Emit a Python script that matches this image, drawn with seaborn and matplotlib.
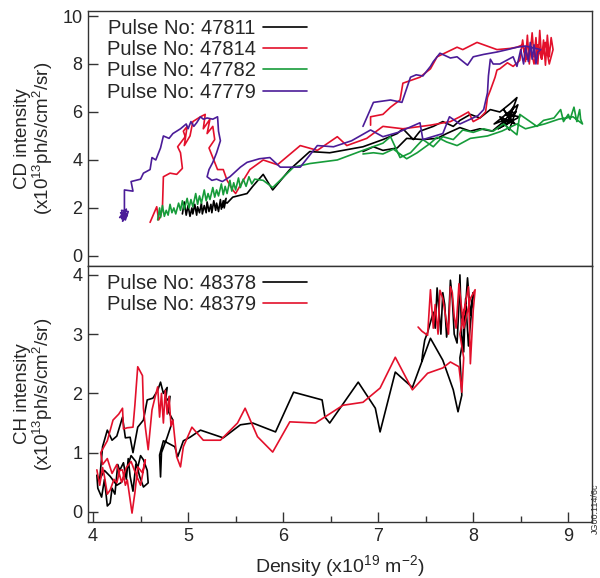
import numpy as np
import pandas as pd
import matplotlib
matplotlib.use("Agg")
import matplotlib.pyplot as plt
import seaborn as sns
from matplotlib.lines import Line2D

# ---------------- data ----------------
top_pulses = ["47811", "47814", "47782", "47779"]
top_colors = ["#000000", "#e3102b", "#169c3a", "#4b1c98"]

pulse_47811 = [(4.94,1.75),(4.96,2.25),(4.98,1.7),(5.00,2.1),(5.02,1.65),(5.04,2.0),(5.05,1.75),(5.07,2.15),
    (5.09,1.7),(5.10,2.05),(5.12,1.8),(5.14,2.2),(5.15,1.75),(5.17,2.1),(5.19,1.8),(5.20,2.25),(5.22,1.85),
    (5.24,2.15),(5.25,1.8),(5.27,2.3),(5.29,1.9),(5.30,2.2),(5.32,1.85),(5.34,2.35),(5.35,1.95),(5.37,2.3),
    (5.38,2.0),(5.40,2.4),(5.36,2.05),(5.39,2.25),(5.41,2.2),(5.47,2.45),
    (5.62,2.6),(5.68,2.9),(5.79,3.4),(5.89,2.75),(6.07,3.6),(6.21,4.1),(6.28,4.35),(6.49,4.3),(6.63,4.4),
    (6.84,4.55),(7.05,4.85),(7.20,5.1),(7.26,5.3),(7.37,4.85),(7.44,5.2),(7.58,5.4),(7.68,5.6),(7.79,5.4),
    (7.86,5.65),(7.97,5.9),(8.07,5.75),(8.18,6.1),(8.28,6.0),(8.39,6.35),(8.46,6.6),(8.36,5.5),(8.42,6.2),
    (8.30,5.4),(8.45,6.0),(8.34,5.9),(8.49,5.8),(8.26,5.3),(8.40,5.6),(8.32,6.1),(8.44,5.5),(8.28,5.8),
    (8.38,5.25),(8.47,6.3),(8.22,5.5),(8.35,5.7),(8.20,5.2),(8.07,5.3),(7.97,5.2),
    (7.86,5.35),(7.72,5.1),(7.62,4.9),(7.47,4.85),(7.30,4.9),(7.20,4.5),(7.05,4.4),(6.95,4.55),(6.84,4.35)]

pulse_47814 = [(4.60,1.4),(4.67,2.05),(4.69,1.5),(4.71,1.65),(4.73,2.0),(4.74,3.3),(4.81,3.45),(4.88,3.4),(4.94,3.65),
    (4.92,4.3),(4.89,4.55),(4.97,4.97),(4.95,5.2),(4.99,5.4),(4.96,4.6),(5.02,5.0),(5.05,5.6),(5.13,5.8),
    (5.18,5.9),(5.16,5.3),(5.23,5.7),(5.20,5.1),(5.26,5.4),(5.28,4.85),(5.22,4.5),(5.26,4.1),(5.31,3.6),
    (5.37,3.6),(5.41,3.15),(5.47,2.75),(5.50,2.6),(5.58,3.15),(5.65,3.6),(5.79,4.0),(5.94,3.8),(6.18,4.6),
    (6.36,4.4),(6.57,4.97),(6.67,4.6),(6.88,4.9),(7.05,5.4),(7.26,5.3),(7.55,5.45),(7.76,5.6),(7.86,5.8),
    (7.95,6.0),(8.00,5.6),(8.07,5.75),(8.13,6.0),(8.15,6.6),(8.18,6.9),(8.23,7.45),(8.25,7.75),(8.28,7.8),
    (8.36,8.05),(8.42,7.9),(8.49,8.15),(8.52,9.0),(8.55,8.1),(8.57,9.2),(8.59,8.0),(8.62,9.3),(8.64,8.3),
    (8.66,9.1),(8.68,8.0),(8.70,9.4),(8.72,8.2),(8.74,9.0),(8.76,7.95),(8.78,9.2),(8.80,8.3),(8.82,9.1),
    (8.84,8.6),(8.80,8.0),(8.76,8.9),(8.72,8.2),(8.68,8.8),(8.64,8.0),(8.60,8.7),(8.56,8.2),(8.52,8.8),
    (8.46,8.7),(8.39,8.65),(8.25,8.6),(8.04,8.9),(7.89,8.6),(7.83,8.7),(7.62,8.3),(7.55,7.8),(7.44,7.45),
    (7.26,7.2),(7.23,6.5),(7.13,6.2),(7.05,5.9),(6.92,5.8),(6.92,5.45)]

pulse_47782 = [(4.68,1.5),(4.70,2.0),(4.71,1.6),(4.73,2.1),(4.75,1.65),(4.77,1.9),(4.79,1.7),(4.81,2.15),
    (4.83,1.8),(4.85,2.0),(4.87,1.75),(4.90,2.2),(4.92,1.9),(4.94,2.3),(4.96,1.95),(4.99,2.4),(5.01,2.0),
    (5.03,2.35),(5.05,2.05),(5.08,2.6),(5.10,2.15),(5.12,2.5),(5.14,2.2),(5.17,2.75),(5.19,2.3),(5.21,2.6),
    (5.23,2.35),(5.26,2.85),(5.28,2.45),(5.30,2.75),(5.32,2.5),(5.35,3.0),(5.37,2.55),(5.39,2.9),(5.41,2.6),
    (5.44,3.15),(5.46,2.7),(5.48,3.05),(5.50,2.75),(5.53,3.25),(5.55,2.85),(5.58,3.2),(5.61,2.9),(5.64,3.3),
    (5.67,3.0),(5.70,3.2),(5.79,3.15),(5.89,2.85),(6.11,3.7),(6.28,3.85),(6.57,4.0),(6.84,4.4),(7.05,4.7),
    (7.13,4.97),(7.23,4.1),(7.34,4.3),(7.41,4.6),(7.47,4.85),(7.58,4.55),(7.68,4.97),(7.79,4.85),(7.89,5.25),
    (8.00,5.15),(8.11,5.3),(8.21,5.2),(8.32,5.5),(8.46,5.05),(8.49,5.9),(8.67,5.4),(8.74,5.65),(8.85,5.75),
    (8.92,6.1),(8.95,5.6),(9.00,5.9),(9.02,5.7),(9.06,6.2),(9.09,5.6),(9.12,6.1),(9.13,5.7),(9.15,5.5),
    (9.05,5.8),(8.90,5.7),(8.75,5.5),(8.55,5.3),(8.46,5.5),(8.30,5.2),(8.15,5.0),(7.97,4.9),(7.83,4.6),
    (7.72,4.75),(7.62,4.95),(7.55,4.7),(7.41,4.3),(7.30,4.05),(7.16,4.45),(7.05,4.25),(6.95,4.3),(6.84,4.25)]

pulse_47779 = [(4.30,1.55),(4.33,1.85),(4.28,1.6),(4.35,1.75),(4.31,1.45),(4.36,1.7),(4.29,1.8),(4.34,1.5),
    (4.37,1.85),(4.30,1.9),(4.32,1.55),(4.35,1.95),(4.33,1.65),
    (4.33,2.75),(4.42,2.7),(4.40,3.1),(4.50,3.2),(4.53,3.45),(4.60,3.6),(4.62,4.1),(4.66,4.0),(4.71,4.5),
    (4.74,5.0),(4.80,4.9),(4.84,5.1),(4.88,5.2),(4.92,5.3),(4.95,5.4),(4.98,5.5),(5.00,5.3),(5.03,5.6),
    (5.06,5.4),(5.09,5.55),(5.13,5.8),(5.16,5.7),(5.20,5.75),(5.26,5.7),(5.31,5.8),(5.32,5.2),(5.34,4.8),
    (5.30,4.3),(5.26,3.9),(5.22,3.6),(5.20,3.3),(5.25,3.15),(5.30,3.2),(5.36,3.1),(5.44,3.3),(5.55,3.7),
    (5.62,3.9),(5.75,4.05),(5.86,4.1),(5.97,3.7),(6.18,3.7),(6.36,4.6),(6.53,4.55),(6.72,4.8),(6.92,5.25),
    (7.05,4.97),(7.21,5.15),(7.44,5.55),(7.47,4.85),(7.68,5.1),(7.75,5.8),(7.86,5.5),
    (7.97,5.7),(8.05,5.85),(8.11,6.1),(8.15,6.8),(8.16,7.5),(8.18,8.2),(8.21,8.0),(8.28,8.0),
    (8.35,8.15),(8.42,8.3),(8.46,7.9),(8.50,8.6),(8.53,8.0),(8.55,8.7),(8.58,8.1),(8.60,8.9),(8.62,8.2),
    (8.64,8.8),(8.66,8.0),(8.68,8.5),(8.71,8.6),
    (8.55,8.75),(8.46,8.7),(8.36,8.6),(8.25,8.5),(8.11,8.4),(8.00,8.3),(7.94,7.95),(7.83,8.3),(7.76,8.25),
    (7.65,8.45),(7.58,8.1),(7.55,7.9),(7.47,7.5),(7.40,7.55),(7.34,7.45),(7.25,6.4),(7.13,6.5),(6.95,6.4),
    (6.84,5.4)]

bottom_pulses = ["48378", "48379"]
bottom_colors = ["#000000", "#e3102b"]

pulse_48378 = [(4.04,0.62),(4.05,0.40),(4.09,0.25),(4.12,0.55),(4.15,0.10),(4.18,0.15),(4.20,0.40),(4.23,0.30),
    (4.26,0.80),(4.28,0.70),(4.32,0.83),(4.35,0.55),(4.37,0.90),(4.39,0.60),(4.42,0.35),(4.45,0.80),(4.47,0.75),
    (4.50,0.95),(4.53,0.88),(4.57,0.70),(4.58,0.49),(4.53,0.42),(4.49,0.60),(4.45,0.85),(4.40,0.95),
    (4.35,0.70),(4.30,0.50),(4.25,0.45),(4.18,0.60),(4.12,0.70),(4.07,0.55),(4.10,1.1),(4.15,1.38),
    (4.20,1.21),(4.25,1.28),(4.31,1.6),(4.34,1.25),(4.39,1.26),(4.42,1.0),(4.47,1.43),(4.53,1.55),
    (4.57,1.89),(4.63,1.92),(4.68,2.05),(4.71,2.19),(4.74,2.0),(4.78,2.1),(4.76,1.85),(4.81,1.95),
    (4.79,1.7),(4.84,1.55),(4.78,1.26),(4.72,1.0),(4.71,0.59),(4.70,0.96),(4.74,1.2),(4.79,1.16),
    (4.86,1.1),(4.89,0.93),(4.95,1.2),(5.02,1.26),(5.13,1.38),(5.37,1.25),(5.55,1.47),(5.68,1.5),
    (5.92,1.35),(6.11,2.02),(6.41,1.89),(6.44,1.6),(6.49,1.5),(6.79,2.19),(6.97,1.75),(7.02,1.35),
    (7.18,2.36),(7.36,2.1),(7.55,2.93),(7.68,2.56),(7.79,2.06),(7.84,1.69),(7.88,1.97),(7.86,2.6),
    (7.90,2.98),(7.94,3.95),(7.97,3.32),(8.00,3.7),(7.95,2.8),(7.92,3.6),(7.90,2.7),(7.88,2.9),(7.86,4.0),
    (7.85,3.5),(7.83,2.85),(7.80,3.0),(7.78,3.6),(7.76,3.91),(7.74,3.2),(7.72,2.95),(7.70,3.5),(7.68,3.7),
    (7.66,3.0),(7.62,3.78),(7.60,3.1),(7.58,3.37),(7.55,3.2),(7.52,3.03),(7.49,2.9),(7.47,2.7),(7.46,2.55)]

pulse_48379 = [(4.04,0.71),(4.07,0.45),(4.10,0.75),(4.12,0.6),(4.15,0.3),(4.18,0.37),(4.22,0.55),(4.25,0.49),
    (4.28,0.70),(4.31,0.71),(4.34,0.45),(4.36,0.54),(4.41,-0.02),(4.44,0.32),(4.47,0.76),(4.52,0.66),
    (4.55,0.88),(4.50,0.45),(4.46,0.6),(4.40,0.85),(4.35,0.75),(4.30,0.5),(4.25,0.8),(4.20,0.65),(4.15,0.9),
    (4.10,0.8),(4.08,1.0),(4.15,1.2),(4.21,1.55),(4.27,1.65),(4.31,1.75),(4.32,1.4),(4.36,1.42),(4.42,1.43),
    (4.44,1.8),(4.47,2.45),(4.52,2.3),(4.53,1.75),(4.55,1.43),(4.58,1.05),(4.62,1.72),(4.65,1.92),
    (4.68,2.11),(4.70,1.6),(4.72,2.0),(4.74,1.5),(4.76,2.05),(4.78,1.65),(4.80,1.95),(4.82,1.45),
    (4.84,1.55),(4.88,0.93),(4.92,0.76),(4.95,1.1),(5.04,1.43),(5.16,1.21),(5.34,1.21),(5.52,1.5),
    (5.60,1.75),(5.73,1.27),(5.89,1.01),(6.07,1.52),(6.34,1.5),(6.63,1.8),(6.84,1.85),(7.02,2.09),
    (7.18,2.61),(7.36,2.06),(7.52,2.34),(7.68,2.43),(7.76,2.53),(7.85,2.45),(7.88,2.02),(7.90,2.6),
    (7.86,3.0),(7.92,3.5),(7.88,3.2),(7.95,3.8),(7.97,2.5),(8.00,3.4),(8.02,3.75),(7.97,3.6),(7.90,3.1),
    (7.85,3.85),(7.82,3.1),(7.80,3.3),(7.78,3.7),(7.76,3.8),(7.74,3.0),(7.72,3.2),(7.68,3.6),(7.65,3.74),
    (7.63,3.0),(7.60,3.5),(7.58,3.1),(7.55,3.75),(7.52,2.98),(7.46,3.05),(7.42,3.12)]

top_series = [pulse_47811, pulse_47814, pulse_47782, pulse_47779]
bottom_series = [pulse_48378, pulse_48379]

x_ticks = [4, 5, 6, 7, 8, 9]
top_yticks = [0, 2, 4, 6, 8, 10]
bottom_yticks = [0, 1, 2, 3, 4]


def make_df(names, series):
    rows = []
    for name, pts in zip(names, series):
        for i, (x, y) in enumerate(pts):
            rows.append({"pulse": name, "order": i, "x": x, "y": y})
    return pd.DataFrame(rows)


# ---------------- style ----------------
sns.set_style("ticks")
plt.rcParams["font.family"] = ["Liberation Sans", "DejaVu Sans"]
plt.rcParams["mathtext.default"] = "regular"
plt.rcParams["axes.edgecolor"] = "#333333"
plt.rcParams["axes.linewidth"] = 1.0

fig = plt.figure(figsize=(6.0, 5.78), dpi=100)
ax_top = fig.add_axes([0.1467, 0.5398, 0.84, 0.4412])
ax_bot = fig.add_axes([0.1467, 0.0969, 0.84, 0.4429])

df_top = make_df(top_pulses, top_series)
df_bot = make_df(bottom_pulses, bottom_series)

sns.lineplot(data=df_top, x="x", y="y", hue="pulse", hue_order=top_pulses,
             palette=top_colors, sort=False, estimator=None, legend=False,
             linewidth=1.2, ax=ax_top)
sns.lineplot(data=df_bot, x="x", y="y", hue="pulse", hue_order=bottom_pulses,
             palette=bottom_colors, sort=False, estimator=None, legend=False,
             linewidth=1.2, ax=ax_bot)

for ax in (ax_top, ax_bot):
    ax.set_xlim(3.947, 9.25)
    ax.set_xticks(x_ticks)
    ax.set_xticks([4.5, 5.5, 6.5, 7.5, 8.5], minor=True)
    ax.tick_params(axis="both", which="major", direction="in", length=7, width=1,
                   color="#333333", labelsize=13, pad=4)
    ax.tick_params(axis="x", which="minor", direction="in", length=4, width=1, color="#333333")
    for s in ax.spines.values():
        s.set_visible(True)
        s.set_color("#333333")

ax_top.set_ylim(-0.42, 10.21)
ax_top.set_yticks(top_yticks)
ax_top.tick_params(axis="x", which="both", bottom=False, labelbottom=False)
ax_top.set_xlabel("")
ax_top.set_ylabel("CD intensity\n(x10$^{13}$ph/s/cm$^{2}$/sr)", fontsize=13.5, linespacing=1.0)
ax_top.yaxis.set_label_coords(-0.065, 0.5)

ax_bot.set_ylim(-0.17, 4.15)
ax_bot.set_yticks(bottom_yticks)
ax_bot.set_xlabel("Density (x10$^{19}$ m$^{\u22122}$)", fontsize=14, labelpad=6)
ax_bot.set_ylabel("CH intensity\n(x10$^{13}$ph/s/cm$^{2}$/sr)", fontsize=13.5, linespacing=1.0)
ax_bot.yaxis.set_label_coords(-0.065, 0.5)

top_handles = [Line2D([], [], color=c, lw=1.2) for c in top_colors]
ax_top.legend(top_handles, [f"Pulse No: {p}" for p in top_pulses], loc="upper left",
              bbox_to_anchor=(0.037, 0.97), frameon=False, markerfirst=False,
              handlelength=2.2, handletextpad=0.35, labelspacing=0.12,
              borderpad=0, borderaxespad=0, fontsize=14.5)
bot_handles = [Line2D([], [], color=c, lw=1.2) for c in bottom_colors]
ax_bot.legend(bot_handles, [f"Pulse No: {p}" for p in bottom_pulses], loc="upper left",
              bbox_to_anchor=(0.037, 0.97), frameon=False, markerfirst=False,
              handlelength=2.2, handletextpad=0.35, labelspacing=0.12,
              borderpad=0, borderaxespad=0, fontsize=14.5)

fig.text(0.993, 0.12, "JG00.114/6c", rotation=90, fontsize=6.5, color="#333333",
         ha="center", va="center")

fig.savefig("out.png", dpi=100)
